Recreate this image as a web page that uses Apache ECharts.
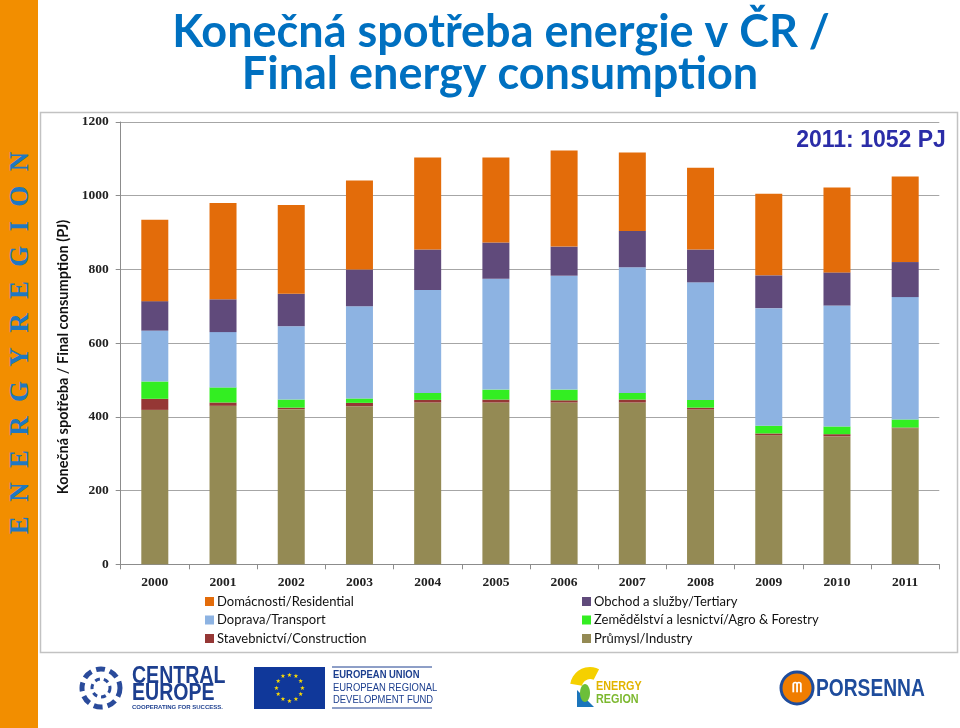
<!DOCTYPE html>
<html>
<head>
<meta charset="utf-8">
<script src="https://cdn.jsdelivr.net/npm/echarts@6/dist/echarts.min.js"></script>
<style>
html,body{margin:0;padding:0;background:#fff;}
#wrap{position:relative;width:960px;height:728px;overflow:hidden;background:#fff;}
#chart{position:absolute;left:0;top:0;width:960px;height:728px;}
#strip{position:absolute;left:0;top:0;width:38px;height:728px;background:#F28E00;}
#striptext{position:absolute;left:19px;top:343px;transform:translate(-50%,-50%) rotate(-90deg);white-space:nowrap;font:bold 27px 'Liberation Serif',serif;color:#1f78c1;letter-spacing:14.3px;padding-left:14.3px;line-height:27px;}
</style>
</head>
<body>
<div id="wrap">
  <div id="chart"></div>
  <div id="strip"><div id="striptext">ENERGYREGION</div></div>
</div>
<script>
// ---- data ----
const years = ['2000','2001','2002','2003','2004','2005','2006','2007','2008','2009','2010','2011'];
const industry     = [419, 430, 421, 429, 439, 439, 439, 439, 420, 350, 347, 369];
const construction = [30, 9, 4, 9, 7, 8, 6, 8, 5, 5, 6, 2];
const agro         = [47, 41, 22, 12, 19, 27, 29, 18, 21, 21, 21, 22];
const transport    = [138, 150, 199, 250, 279, 301, 309, 341, 319, 319, 328, 332];
const tertiary     = [80, 89, 88, 100, 110, 98, 79, 98, 89, 89, 90, 95];
const residential  = [221, 261, 241, 241, 250, 231, 261, 213, 222, 221, 230, 232];
const yTicks = [0, 200, 400, 600, 800, 1000, 1200];

const names = {
  res: 'Domácnosti/Residential',
  ter: 'Obchod a služby/Tertiary',
  tra: 'Doprava/Transport',
  agr: 'Zemědělství a lesnictví/Agro & Forestry',
  con: 'Stavebnictví/Construction',
  ind: 'Průmysl/Industry'
};
const colors = {
  res: '#E36C0A', ter: '#604A7B', tra: '#8DB3E2',
  agr: '#33EE22', con: '#953735', ind: '#948A54'
};

const chart = echarts.init(document.getElementById('chart'), null, {renderer: 'canvas'});

function bar(key, data) {
  return {
    name: names[key], type: 'bar', stack: 'total', data: data,
    barWidth: 27, itemStyle: {color: colors[key]}, emphasis: {disabled: true}
  };
}

// EU flag stars
const stars = [];
for (let i = 0; i < 12; i++) {
  const a = i * Math.PI / 6;
  stars.push({
    type: 'text', z: 20,
    style: {x: 289.5 + 13 * Math.cos(a), y: 688 + 13 * Math.sin(a), text: '★',
      fill: '#FFDD00', font: '6px "DejaVu Sans"', align: 'center', verticalAlign: 'middle'}
  });
}

const labelFont = {fontFamily: "'Liberation Serif', serif", fontWeight: 'bold', fontSize: 13.5, color: '#222'};
const narrow = '"Liberation Sans Narrow", "Liberation Sans", sans-serif';

chart.setOption({
  animation: false,
  backgroundColor: 'transparent',
  grid: {left: 120.7, right: 20.7, top: 122, bottom: 163.7, containLabel: false},
  xAxis: {
    type: 'category', data: years, boundaryGap: true,
    axisLine: {show: true, lineStyle: {color: '#8c8c8c', width: 1}},
    axisTick: {show: true, length: 5, inside: false, alignWithLabel: false, lineStyle: {color: '#8c8c8c'}},
    axisLabel: Object.assign({margin: 11, interval: 0}, labelFont),
    splitLine: {show: false}
  },
  yAxis: {
    type: 'value', min: yTicks[0], max: yTicks[yTicks.length - 1], interval: yTicks[1] - yTicks[0],
    axisLine: {show: true, lineStyle: {color: '#8c8c8c', width: 1}},
    axisTick: {show: true, length: 5, inside: false, lineStyle: {color: '#8c8c8c'}},
    axisLabel: Object.assign({margin: 12, formatter: v => String(v)}, labelFont),
    splitLine: {show: true, lineStyle: {color: '#a6a6a6', width: 1}}
  },
  legend: [
    {
      data: [names.res, names.tra, names.con], orient: 'vertical', left: 200, top: 590,
      icon: 'rect', itemWidth: 9, itemHeight: 9, itemGap: 5.5, selectedMode: false,
      textStyle: {fontFamily: 'Lato, sans-serif', fontSize: 13, color: '#111', padding: [0, 0, 0, -2]}
    },
    {
      data: [names.ter, names.agr, names.ind], orient: 'vertical', left: 577, top: 590,
      icon: 'rect', itemWidth: 9, itemHeight: 9, itemGap: 5.5, selectedMode: false,
      textStyle: {fontFamily: 'Lato, sans-serif', fontSize: 13, color: '#111', padding: [0, 0, 0, -2]}
    }
  ],
  series: [
    bar('ind', industry), bar('con', construction), bar('agr', agro),
    bar('tra', transport), bar('ter', tertiary), bar('res', residential)
  ],
  graphic: [
    // chart frame
    {type: 'rect', z: -1, shape: {x: 40.5, y: 112.5, width: 917, height: 540},
      style: {fill: 'none', stroke: '#c2c2c2', lineWidth: 1.5}},
    // titles
    {type: 'text', z: 10, style: {x: 501, y: 32, text: 'Konečná spotřeba energie v ČR /',
      font: 'bold 45px Lato, sans-serif', fill: '#0070C0', align: 'center', verticalAlign: 'middle'}},
    {type: 'text', z: 10, style: {x: 500, y: 74, text: 'Final energy consumption',
      font: 'bold 45px Lato, sans-serif', fill: '#0070C0', align: 'center', verticalAlign: 'middle'}},
    // annotation
    {type: 'text', z: 10, style: {x: 871, y: 141, text: '2011: 1052 PJ',
      font: 'bold 23px "Liberation Sans", sans-serif', fill: '#2B2DA8', align: 'center', verticalAlign: 'middle'}},
    // y axis name
    {type: 'text', z: 10, rotation: Math.PI / 2, x: 63, y: 357,
      style: {x: 0, y: 0, text: 'Konečná spotřeba / Final consumption (PJ)',
      font: 'bold 14.5px Lato, sans-serif', fill: '#111', align: 'center', verticalAlign: 'middle'}},
    // ---- Central Europe logo ----
    {type: 'circle', z: 10, shape: {cx: 101, cy: 688, r: 19}, style: {fill: 'none', stroke: '#2a4b9b', lineWidth: 5, lineDash: [9, 5]}},
    {type: 'circle', z: 10, shape: {cx: 101, cy: 688, r: 9}, style: {fill: 'none', stroke: '#2a4b9b', lineWidth: 3, lineDash: [5, 4]}},
    {type: 'text', z: 10, x: 132, y: 677, scaleX: 0.85, style: {x: 0, y: 0, text: 'CENTRAL', font: 'bold 23px ' + narrow, fill: '#1d3f8f', verticalAlign: 'middle'}},
    {type: 'text', z: 10, x: 132, y: 694, scaleX: 0.85, style: {x: 0, y: 0, text: 'EUROPE', font: 'bold 23px ' + narrow, fill: '#1d3f8f', verticalAlign: 'middle'}},
    {type: 'text', z: 10, style: {x: 132, y: 707, text: 'COOPERATING FOR SUCCESS.', font: 'bold 6px "Liberation Sans", sans-serif', fill: '#1d3f8f', verticalAlign: 'middle'}},
    // ---- EU logo ----
    {type: 'rect', z: 10, shape: {x: 254, y: 667, width: 71, height: 42}, style: {fill: '#10389a'}},
    ...stars,
    {type: 'line', z: 10, shape: {x1: 332, y1: 667, x2: 432, y2: 667}, style: {stroke: '#1d3f8f', lineWidth: 1}},
    {type: 'line', z: 10, shape: {x1: 332, y1: 708, x2: 432, y2: 708}, style: {stroke: '#1d3f8f', lineWidth: 1}},
    {type: 'text', z: 10, x: 333, y: 675, scaleX: 0.82, style: {x: 0, y: 0, text: 'EUROPEAN UNION', font: 'bold 11.5px ' + narrow, fill: '#1d3f8f', verticalAlign: 'middle'}},
    {type: 'text', z: 10, x: 333, y: 688, scaleX: 0.82, style: {x: 0, y: 0, text: 'EUROPEAN REGIONAL', font: '11.5px ' + narrow, fill: '#1d3f8f', verticalAlign: 'middle'}},
    {type: 'text', z: 10, x: 333, y: 700, scaleX: 0.82, style: {x: 0, y: 0, text: 'DEVELOPMENT FUND', font: '11.5px ' + narrow, fill: '#1d3f8f', verticalAlign: 'middle'}},
    // ---- Energy Region logo ----
    {type: 'sector', z: 10, shape: {cx: 590, cy: 687, r: 20, r0: 8, startAngle: -Math.PI * 0.95, endAngle: -Math.PI * 0.35}, style: {fill: '#f5d000'}},
    {type: 'polygon', z: 11, shape: {points: [[577, 707], [594, 707], [577, 690]]}, style: {fill: '#1b75bb'}},
    {type: 'ellipse', z: 12, shape: {cx: 585, cy: 693, rx: 5, ry: 9}, style: {fill: '#6cbf3a'}},
    {type: 'text', z: 12, x: 596, y: 687, scaleX: 0.9, style: {x: 0, y: 0, text: 'ENERGY', font: 'bold 12px ' + narrow, fill: '#e2b400', verticalAlign: 'middle'}},
    {type: 'text', z: 12, x: 596, y: 700, scaleX: 0.9, style: {x: 0, y: 0, text: 'REGION', font: 'bold 12px ' + narrow, fill: '#7cb82f', verticalAlign: 'middle'}},
    // ---- Porsenna logo ----
    {type: 'circle', z: 10, shape: {cx: 797, cy: 688, r: 16}, style: {fill: '#f07d00', stroke: '#1e4c9c', lineWidth: 3}},
    {type: 'text', z: 11, style: {x: 797, y: 688, text: 'ᗰ', font: 'bold 14px "DejaVu Sans"', fill: '#fff', align: 'center', verticalAlign: 'middle'}},
    {type: 'text', z: 10, x: 816, y: 689, scaleX: 0.8, style: {x: 0, y: 0, text: 'PORSENNA', font: 'bold 24px ' + narrow, fill: '#1e4c9c', verticalAlign: 'middle'}}
  ]
});
</script>
</body>
</html>
